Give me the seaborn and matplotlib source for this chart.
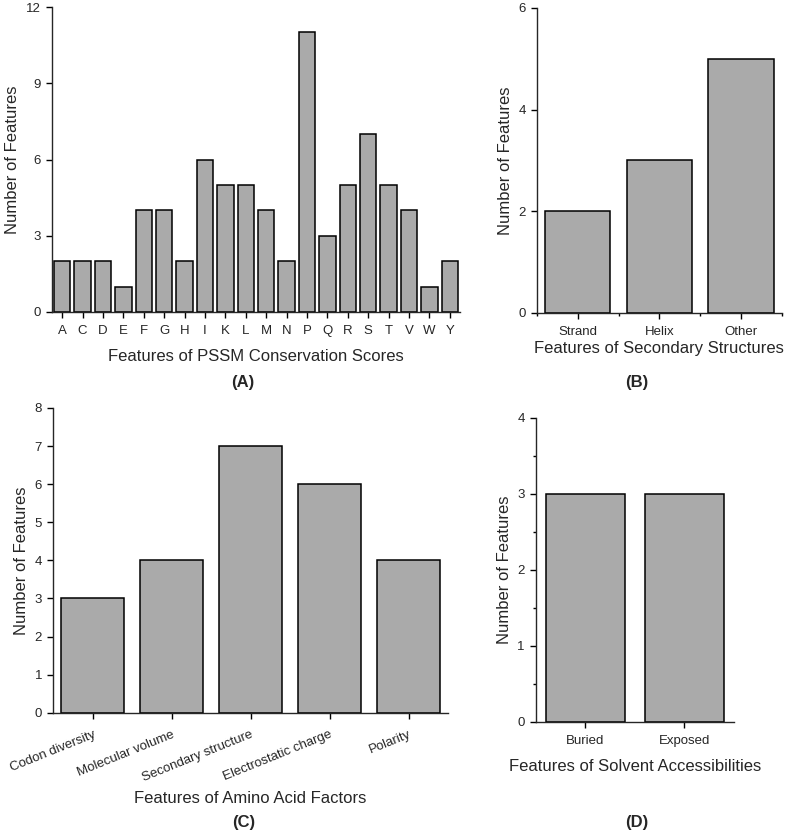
import matplotlib
matplotlib.use("Agg")
import matplotlib.pyplot as plt
from matplotlib.ticker import MultipleLocator, FixedLocator
import seaborn as sns

sns.set_style("ticks")
plt.rcParams['font.family'] = ['Liberation Sans', 'DejaVu Sans']

# panel A: PSSM conservation scores
pssm_labels = ['A', 'C', 'D', 'E', 'F', 'G', 'H', 'I', 'K', 'L',
               'M', 'N', 'P', 'Q', 'R', 'S', 'T', 'V', 'W', 'Y']
pssm_counts = [2, 2, 2, 1, 4, 4, 2, 6, 5, 5, 4, 2, 11, 3, 5, 7, 5, 4, 1, 2]

# panel B: secondary structures
ss_labels = ['Strand', 'Helix', 'Other']
ss_counts = [2, 3, 5]

# panel C: amino acid factors
aaf_labels = ['Codon diversity', 'Molecular volume', 'Secondary structure',
              'Electrostatic charge', 'Polarity']
aaf_counts = [3, 4, 7, 6, 4]

# panel D: solvent accessibilities
sa_labels = ['Buried', 'Exposed']
sa_counts = [3, 3]

BAR = '#aaaaaa'

fig = plt.figure(figsize=(7.88, 8.36), dpi=100)


def bar_panel(rect, labels, counts, xlabel, ymax, ystep, rot=0, yminor=None, xminor=False):
    ax = fig.add_axes(rect)
    sns.barplot(x=labels, y=counts, color=BAR, edgecolor='black', linewidth=1.1,
                width=0.8, saturation=1, ax=ax)
    ax.set_xlim(-0.5, len(labels) - 0.5)
    ax.set_ylim(0, ymax)
    ax.yaxis.set_major_locator(MultipleLocator(ystep))
    if yminor:
        ax.yaxis.set_minor_locator(MultipleLocator(yminor))
    if xminor:
        # small ticks on the category boundaries
        ax.xaxis.set_minor_locator(FixedLocator([i - 0.5 for i in range(len(labels) + 1)]))
    sns.despine(ax=ax)
    for s in ['left', 'bottom']:
        ax.spines[s].set_linewidth(1.0)
    ax.tick_params(which='major', length=4.5, width=1.0, labelsize=9.5, color='black')
    ax.tick_params(axis='x', which='major', pad=5)
    ax.tick_params(which='minor', length=2.5, width=1.0, color='black')
    ax.set_ylabel('Number of Features', fontsize=12)
    ax.set_xlabel(xlabel, fontsize=12)
    if rot:
        ax.tick_params(axis='x', which='major', pad=7)
        plt.setp(ax.get_xticklabels(), rotation=rot, ha='right', rotation_mode='anchor')
    return ax


axA = bar_panel([0.066, 0.6268, 0.5178, 0.3648], pssm_labels, pssm_counts,
                'Features of PSSM Conservation Scores', 12, 3)
axB = bar_panel([0.6815, 0.626, 0.3105, 0.3645], ss_labels, ss_counts,
                'Features of Secondary Structures', 6, 2, xminor=True)
axC = bar_panel([0.0676, 0.1475, 0.5009, 0.3645], aaf_labels, aaf_counts,
                'Features of Amino Acid Factors', 8, 1, rot=22)
axD = bar_panel([0.6798, 0.1364, 0.2517, 0.364], sa_labels, sa_counts,
                'Features of Solvent Accessibilities', 4, 1, yminor=0.5)

axA.xaxis.labelpad = 8.5
axB.xaxis.labelpad = 2
axC.xaxis.labelpad = 5
axD.xaxis.labelpad = 8.5

for txt, x, y in [('(A)', 243, 383), ('(B)', 637, 383), ('(C)', 244, 823), ('(D)', 637, 823)]:
    fig.text(x / 788, 1 - y / 836, txt, ha='center', va='center', fontsize=12, fontweight='bold')

fig.savefig('out.png', dpi=100)
